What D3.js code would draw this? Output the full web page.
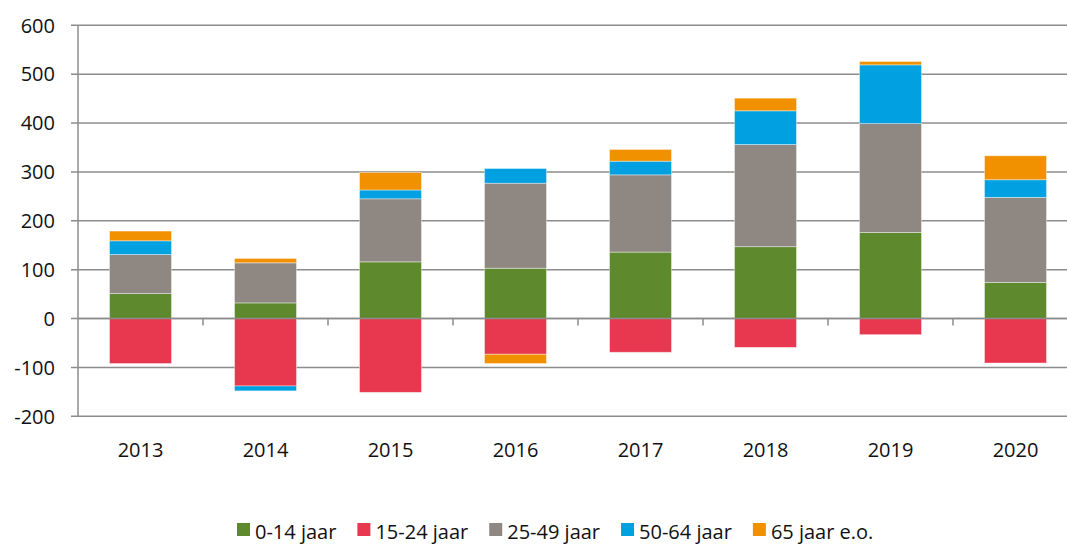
<!DOCTYPE html>
<html>
<head>
<meta charset="utf-8">
<script src="https://cdn.jsdelivr.net/npm/d3@7"></script>
<style>
  body { margin: 0; background: #fff; }
  svg { display: block; font-family: "Open Sans", sans-serif; }
</style>
</head>
<body>
<div id="chart"></div>
<script>
const years = ["2013", "2014", "2015", "2016", "2017", "2018", "2019", "2020"];
const groups = ["0-14 jaar", "15-24 jaar", "25-49 jaar", "50-64 jaar", "65 jaar e.o."];
const colors = ["#5e8a2d", "#e8384f", "#8f8882", "#00a0e1", "#f29100"];

const age0_14  = [51, 32, 116, 103, 136, 147, 176, 74];
const age15_24 = [-92, -138, -151, -73, -69, -59, -33, -91];
const age25_49 = [80, 82, 129, 174, 158, 209, 223, 174];
const age50_64 = [28, -10, 18, 30, 28, 69, 120, 36];
const age65    = [20, 9, 36, -19, 24, 26, 7, 49];
const yTicks = [-200, -100, 0, 100, 200, 300, 400, 500, 600];

const seriesValues = [age0_14, age15_24, age25_49, age50_64, age65];
const table = years.map((y, i) => {
    const row = { year: y };
    groups.forEach((g, j) => row[g] = seriesValues[j][i]);
    return row;
});

const width = 1067, height = 544;
const svg = d3.select("#chart").append("svg")
    .attr("width", width)
    .attr("height", height);

const x = d3.scaleBand()
    .domain(years)
    .range([78, 1078])
    .paddingInner(0.504)
    .paddingOuter(0.252);

const y = d3.scaleLinear()
    .domain([-200, 600])
    .range([416.3, 25.3]);

const gridColor = "#8c8c8c";

// gridlines
svg.append("g")
    .selectAll("line")
    .data(yTicks)
    .enter().append("line")
    .attr("x1", 71)
    .attr("x2", width)
    .attr("y1", d => y(d))
    .attr("y2", d => y(d))
    .attr("stroke", gridColor)
    .attr("stroke-width", 1.5);

// y axis line
svg.append("line")
    .attr("x1", 78).attr("x2", 78)
    .attr("y1", y(600)).attr("y2", y(-200))
    .attr("stroke", gridColor)
    .attr("stroke-width", 1.5);

// y labels
svg.append("g")
    .selectAll("text")
    .data(yTicks)
    .enter().append("text")
    .attr("x", 55)
    .attr("y", d => y(d))
    .attr("dy", "0.36em")
    .attr("text-anchor", "end")
    .attr("font-size", 20)
    .attr("fill", "#111")
    .text(d => d);

// stacked bars
const stack = d3.stack()
    .keys(groups)
    .offset(d3.stackOffsetDiverging);
const stacked = stack(table);

svg.append("g")
    .selectAll("g")
    .data(stacked)
    .enter().append("g")
    .attr("fill", (d, i) => colors[i])
    .selectAll("rect")
    .data(d => d)
    .enter().append("rect")
    .attr("x", d => x(d.data.year))
    .attr("width", x.bandwidth())
    .attr("y", d => y(Math.max(d[0], d[1])))
    .attr("height", d => Math.abs(y(d[0]) - y(d[1])))
    .attr("stroke", "#ffffff")
    .attr("stroke-opacity", 0.5)
    .attr("stroke-width", 0.8);

// zero line and category tick marks
svg.append("line")
    .attr("x1", 78).attr("x2", width)
    .attr("y1", y(0)).attr("y2", y(0))
    .attr("stroke", gridColor)
    .attr("stroke-width", 1.5);

svg.append("g")
    .selectAll("line")
    .data(years.slice(1))
    .enter().append("line")
    .attr("x1", d => x(d) - x.step() * x.paddingInner() / 2)
    .attr("x2", d => x(d) - x.step() * x.paddingInner() / 2)
    .attr("y1", y(0))
    .attr("y2", y(0) + 7)
    .attr("stroke", gridColor)
    .attr("stroke-width", 1.5);

// x labels
svg.append("g")
    .selectAll("text")
    .data(years)
    .enter().append("text")
    .attr("x", d => x(d) + x.bandwidth() / 2)
    .attr("y", 457)
    .attr("text-anchor", "middle")
    .attr("font-size", 20)
    .attr("fill", "#111")
    .text(d => d);

// legend
const legend = svg.append("g");
let lx = 237;
groups.forEach((g, i) => {
    legend.append("rect")
        .attr("x", lx)
        .attr("y", 523)
        .attr("width", 13)
        .attr("height", 13)
        .attr("fill", colors[i]);
    const t = legend.append("text")
        .attr("x", lx + 18)
        .attr("y", 539)
        .attr("font-size", 20)
        .attr("fill", "#111")
        .text(g);
    lx += 18 + t.node().getComputedTextLength() + 21;
});
</script>
</body>
</html>
